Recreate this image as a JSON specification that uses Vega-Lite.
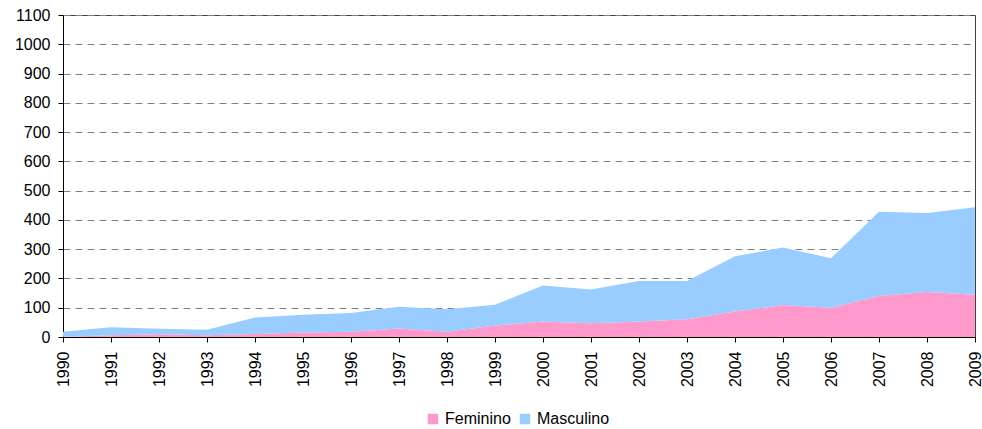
{
  "$schema": "https://vega.github.io/schema/vega-lite/v6.json",
  "width": 912,
  "height": 322,
  "autosize": {"type": "none"},
  "padding": {"left": 63, "top": 15, "right": 7, "bottom": 92},
  "background": "white",
  "config": {
    "view": {"stroke": "#404040", "strokeWidth": 1},
    "font": "Liberation Sans",
    "axis": {"labelFont": "Liberation Sans", "labelFontSize": 16, "labelColor": "#000", "domainColor": "#000", "tickColor": "#000"}
  },
  "data": {
    "values": [
      {"year": "1990", "sexo": "Feminino", "o": 1, "v": 1},
      {"year": "1991", "sexo": "Feminino", "o": 1, "v": 6},
      {"year": "1992", "sexo": "Feminino", "o": 1, "v": 9},
      {"year": "1993", "sexo": "Feminino", "o": 1, "v": 6},
      {"year": "1994", "sexo": "Feminino", "o": 1, "v": 10},
      {"year": "1995", "sexo": "Feminino", "o": 1, "v": 15},
      {"year": "1996", "sexo": "Feminino", "o": 1, "v": 18},
      {"year": "1997", "sexo": "Feminino", "o": 1, "v": 29},
      {"year": "1998", "sexo": "Feminino", "o": 1, "v": 18},
      {"year": "1999", "sexo": "Feminino", "o": 1, "v": 39},
      {"year": "2000", "sexo": "Feminino", "o": 1, "v": 53},
      {"year": "2001", "sexo": "Feminino", "o": 1, "v": 47},
      {"year": "2002", "sexo": "Feminino", "o": 1, "v": 53},
      {"year": "2003", "sexo": "Feminino", "o": 1, "v": 61},
      {"year": "2004", "sexo": "Feminino", "o": 1, "v": 87},
      {"year": "2005", "sexo": "Feminino", "o": 1, "v": 109},
      {"year": "2006", "sexo": "Feminino", "o": 1, "v": 100},
      {"year": "2007", "sexo": "Feminino", "o": 1, "v": 140},
      {"year": "2008", "sexo": "Feminino", "o": 1, "v": 154},
      {"year": "2009", "sexo": "Feminino", "o": 1, "v": 144},
      {"year": "1990", "sexo": "Masculino", "o": 2, "v": 17},
      {"year": "1991", "sexo": "Masculino", "o": 2, "v": 27},
      {"year": "1992", "sexo": "Masculino", "o": 2, "v": 19},
      {"year": "1993", "sexo": "Masculino", "o": 2, "v": 19},
      {"year": "1994", "sexo": "Masculino", "o": 2, "v": 57},
      {"year": "1995", "sexo": "Masculino", "o": 2, "v": 61},
      {"year": "1996", "sexo": "Masculino", "o": 2, "v": 64},
      {"year": "1997", "sexo": "Masculino", "o": 2, "v": 74},
      {"year": "1998", "sexo": "Masculino", "o": 2, "v": 77},
      {"year": "1999", "sexo": "Masculino", "o": 2, "v": 71},
      {"year": "2000", "sexo": "Masculino", "o": 2, "v": 123},
      {"year": "2001", "sexo": "Masculino", "o": 2, "v": 115},
      {"year": "2002", "sexo": "Masculino", "o": 2, "v": 138},
      {"year": "2003", "sexo": "Masculino", "o": 2, "v": 130},
      {"year": "2004", "sexo": "Masculino", "o": 2, "v": 189},
      {"year": "2005", "sexo": "Masculino", "o": 2, "v": 197},
      {"year": "2006", "sexo": "Masculino", "o": 2, "v": 169},
      {"year": "2007", "sexo": "Masculino", "o": 2, "v": 288},
      {"year": "2008", "sexo": "Masculino", "o": 2, "v": 270},
      {"year": "2009", "sexo": "Masculino", "o": 2, "v": 299}
    ]
  },
  "mark": {"type": "area", "opacity": 1},
  "encoding": {
    "x": {
      "field": "year", "type": "ordinal",
      "scale": {"type": "point", "padding": 0},
      "axis": {"title": null, "labelAngle": -90, "tickSize": 5, "labelPadding": 9, "grid": false}
    },
    "y": {
      "field": "v", "type": "quantitative", "stack": "zero",
      "scale": {"domain": [0, 1100], "nice": false},
      "axis": {"title": null, "format": "d", "values": [0,100,200,300,400,500,600,700,800,900,1000,1100], "tickSize": 5, "labelPadding": 8,
        "grid": true, "gridColor": "#808080", "gridDash": [7, 5], "gridWidth": 1}
    },
    "color": {
      "field": "sexo", "type": "nominal",
      "scale": {"domain": ["Feminino", "Masculino"], "range": ["#FF99CC", "#99CCFF"]},
      "legend": {"title": null, "orient": "none", "direction": "horizontal", "legendX": 362, "legendY": 396,
        "symbolType": "square", "symbolSize": 110, "symbolStrokeWidth": 0, "symbolOpacity": 1,
        "labelFont": "Liberation Sans", "labelFontSize": 16, "labelColor": "#000", "columnPadding": 6, "labelOffset": 4}
    },
    "order": {"field": "o", "type": "quantitative"}
  }
}
